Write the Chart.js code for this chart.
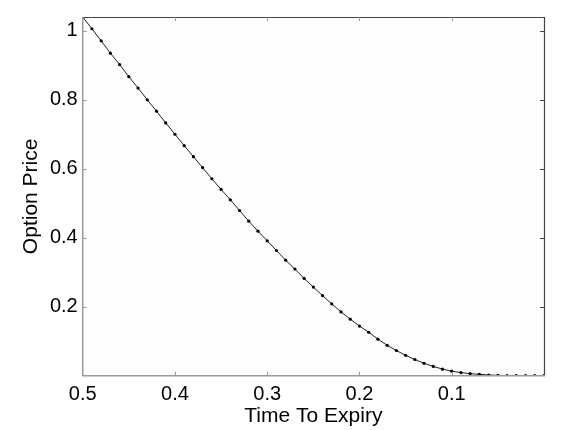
<!DOCTYPE html>
<html>
<head>
<meta charset="utf-8">
<script src="https://cdn.jsdelivr.net/npm/chart.js@4/dist/chart.umd.min.js"></script>
<style>
  html, body { margin: 0; padding: 0; background: #fff; }
  #wrap { width: 565px; height: 430px; }
</style>
</head>
<body>
<div id="wrap"><canvas id="chart"></canvas></div>
<script>
// time to expiry (years) and option price
const timeToExpiry = [0.50, 0.49, 0.48, 0.47, 0.46, 0.45, 0.44, 0.43, 0.42, 0.41,
                      0.40, 0.39, 0.38, 0.37, 0.36, 0.35, 0.34, 0.33, 0.32, 0.31,
                      0.30, 0.29, 0.28, 0.27, 0.26, 0.25, 0.24, 0.23, 0.22, 0.21,
                      0.20, 0.19, 0.18, 0.17, 0.16, 0.15, 0.14, 0.13, 0.12, 0.11,
                      0.10, 0.09, 0.08, 0.07, 0.06, 0.05, 0.04, 0.03, 0.02, 0.01, 0.00];
const optionPrice = [1.040, 1.006, 0.971, 0.935, 0.902, 0.867, 0.834, 0.800, 0.767, 0.733,
                     0.700, 0.667, 0.635, 0.603, 0.571, 0.540, 0.510, 0.479, 0.448, 0.419,
                     0.391, 0.363, 0.335, 0.309, 0.282, 0.257, 0.232, 0.208, 0.185, 0.164,
                     0.144, 0.126, 0.106, 0.088, 0.073, 0.059, 0.047, 0.036, 0.027, 0.019,
                     0.013, 0.009, 0.006, 0.004, 0.002, 0.001, 0.0005, 0, 0, 0, 0];
const xTicks = [0.5, 0.4, 0.3, 0.2, 0.1];
const yTicks = [0.2, 0.4, 0.6, 0.8, 1];

const FONT = '"Liberation Sans", Arial, sans-serif';

// MATLAB-ish box: gray left/bottom axes, dark top/right, inward ticks
const boxPlugin = {
  id: 'box',
  beforeDatasetsDraw(chart) {
    const { ctx, chartArea: a } = chart;
    ctx.save();
    ctx.fillStyle = '#fdfdfd';
    ctx.fillRect(a.left, a.top, a.right - a.left, a.bottom - a.top);
    ctx.restore();
  },
  afterDraw(chart) {
    const { ctx, chartArea: a, scales } = chart;
    const tl = 4;
    ctx.save();
    // top & right border
    ctx.strokeStyle = '#444';
    ctx.lineWidth = 1.2;
    ctx.beginPath();
    ctx.moveTo(a.left, a.top + 0.5);
    ctx.lineTo(a.right + 0.5, a.top + 0.5);
    ctx.lineTo(a.right + 0.5, a.bottom);
    ctx.stroke();
    // right ticks
    ctx.beginPath();
    yTicks.forEach(v => {
      const y = Math.round(scales.y.getPixelForValue(v)) + 0.5;
      ctx.moveTo(a.right, y);
      ctx.lineTo(a.right - tl, y);
    });
    ctx.stroke();
    // left & bottom axes
    ctx.strokeStyle = '#9a9a9a';
    ctx.lineWidth = 1.5;
    ctx.beginPath();
    ctx.moveTo(a.left, a.top);
    ctx.lineTo(a.left, a.bottom);
    ctx.lineTo(a.right + 1, a.bottom);
    ctx.stroke();
    ctx.lineWidth = 1;
    ctx.beginPath();
    yTicks.forEach(v => {
      const y = Math.round(scales.y.getPixelForValue(v)) + 0.5;
      ctx.moveTo(a.left, y);
      ctx.lineTo(a.left + tl, y);
    });
    xTicks.slice(1).forEach(v => {
      const x = Math.round(scales.x.getPixelForValue(v)) + 0.5;
      ctx.moveTo(x, a.bottom);
      ctx.lineTo(x, a.bottom - tl);
      ctx.moveTo(x, a.top);
      ctx.lineTo(x, a.top + tl);
    });
    ctx.stroke();
    ctx.restore();
  }
};

new Chart(document.getElementById('chart'), {
  type: 'line',
  data: {
    datasets: [{
      data: timeToExpiry.map((t, i) => ({ x: t, y: optionPrice[i] })),
      borderColor: '#222',
      borderWidth: 1,
      backgroundColor: '#000',
      pointRadius: 1.6,
      pointBorderWidth: 0,
      pointBackgroundColor: '#000',
      tension: 0,
      fill: false
    }]
  },
  options: {
    responsive: true,
    maintainAspectRatio: false,
    animation: false,
    devicePixelRatio: 1,
    layout: { padding: { top: 15, right: 21, left: 0, bottom: 0 } },
    plugins: {
      legend: { display: false },
      tooltip: { enabled: false }
    },
    scales: {
      x: {
        type: 'linear',
        reverse: true,
        min: 0,
        max: 0.5,
        afterBuildTicks: s => { s.ticks = xTicks.map(v => ({ value: v })); },
        afterFit: s => { s.height = 54.3; },
        ticks: {
          color: '#000',
          padding: 7,
          maxRotation: 0,
          font: { family: FONT, size: 20 },
          callback: v => String(v)
        },
        grid: { display: false, drawTicks: false },
        border: { display: false },
        title: {
          display: true,
          text: 'Time To Expiry',
          color: '#000',
          font: { family: FONT, size: 21 },
          padding: { top: 0, bottom: 1 }
        }
      },
      y: {
        type: 'linear',
        min: 0,
        max: 1.04,
        afterBuildTicks: s => { s.ticks = yTicks.map(v => ({ value: v })); },
        afterFit: s => { s.width = 82.7; },
        ticks: {
          color: '#000',
          padding: 5,
          font: { family: FONT, size: 20 },
          callback: v => String(v)
        },
        grid: { color: '#cfcfcf', lineWidth: 1, drawTicks: false },
        border: { display: false, dash: [1, 2] },
        title: {
          display: true,
          text: 'Option Price',
          color: '#000',
          font: { family: FONT, size: 21 },
          padding: { top: 19, bottom: 0 }
        }
      }
    }
  },
  plugins: [boxPlugin]
});
</script>
</body>
</html>
